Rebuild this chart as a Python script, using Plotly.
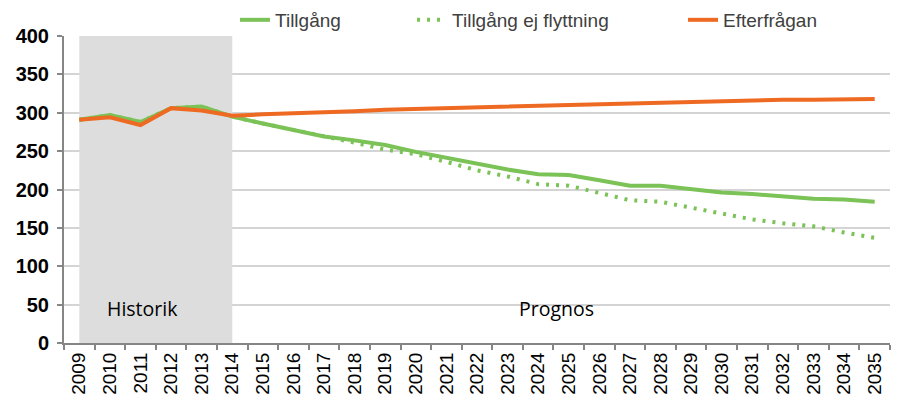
import plotly.graph_objects as go

# Values (thousands)
years = [str(y) for y in range(2009, 2036)]
tillgang = [291, 297, 288, 306, 308, 295, 286, 278, 269, 264, 258, 249, 241, 233,
            226, 220, 219, 212, 205, 205, 200, 196, 194, 191, 188, 187, 184]
tillgang_ej = [291, 297, 288, 306, 308, 295, 286, 278, 269, 261, 252, 246, 236, 225,
               217, 207, 205, 195, 186, 184, 176, 168, 161, 156, 152, 144, 137]
efterfragan = [291, 294, 284, 306, 303, 296, 298, 299, 300, 302, 304, 305, 306, 307,
               308, 310, 311, 312, 313, 314, 315, 316, 316, 317, 317, 318, 318]
y_ticks = [0, 50, 100, 150, 200, 250, 300, 350, 400]
historik = ('2009', '2014')

green = '#7BC257'
orange = '#EE6A22'
legend_font = dict(family='Liberation Sans, Arial', size=19, color='#404040')

fig = go.Figure()

fig.add_trace(go.Scatter(
    x=years, y=tillgang, mode='lines', name='Tillgång',
    line=dict(color=green, width=4), legend='legend'
))
fig.add_trace(go.Scatter(
    x=years, y=tillgang_ej, mode='lines', name='Tillgång ej flyttning',
    line=dict(color=green, width=4, dash='3px,7px'), legend='legend2'
))
fig.add_trace(go.Scatter(
    x=years, y=efterfragan, mode='lines', name='Efterfrågan',
    line=dict(color=orange, width=4), legend='legend3'
))

# grey band for the historical period
fig.add_shape(
    type='rect', xref='x', yref='y',
    x0=years.index(historik[0]), x1=years.index(historik[1]),
    y0=y_ticks[0], y1=y_ticks[-1],
    fillcolor='#DCDDDC', line=dict(width=0), layer='between'
)

label_font = dict(family='Open Sans', size=19.5, color='#000000')
fig.add_annotation(x=2.05, y=45, xref='x', yref='y', text='Historik',
                   showarrow=False, font=label_font)
fig.add_annotation(x=15.6, y=45, xref='x', yref='y', text='Prognos',
                   showarrow=False, font=label_font)


def legend_box(x):
    return dict(orientation='h', xref='container', yref='container',
                x=x, y=0.971, xanchor='left', yanchor='middle',
                font=legend_font, bgcolor='rgba(0,0,0,0)')


fig.update_layout(
    width=921, height=413,
    margin=dict(l=56, r=39, t=28, b=78, autoexpand=False),
    plot_bgcolor='white', paper_bgcolor='white',
    font=dict(family='Liberation Sans, Arial', color='#000000'),
    showlegend=True,
    legend=legend_box(0.2465),
    legend2=legend_box(0.4387),
    legend3=legend_box(0.7329),
)

fig.update_xaxes(
    type='category', tickson='boundaries', tickangle=-90,
    ticks='outside', ticklen=5, tickcolor='#868686', tickwidth=1.5,
    showline=True, linecolor='#868686', linewidth=2,
    showgrid=False, range=[-0.5, len(years) - 0.5],
    tickfont=dict(family='Liberation Sans, Arial', size=19, color='#000000'),
)
fig.update_yaxes(
    range=[y_ticks[0], y_ticks[-1]], tickvals=y_ticks,
    ticks='outside', ticklen=5, tickcolor='#868686', tickwidth=1.5,
    showline=True, linecolor='#868686', linewidth=2,
    showgrid=True, gridcolor='#D4D4D4', gridwidth=1.5, zeroline=False,
    ticklabelstandoff=4,
    tickfont=dict(family='Liberation Sans, Arial', size=20, color='#000000', weight='bold'),
)

fig.write_html('out.html')
